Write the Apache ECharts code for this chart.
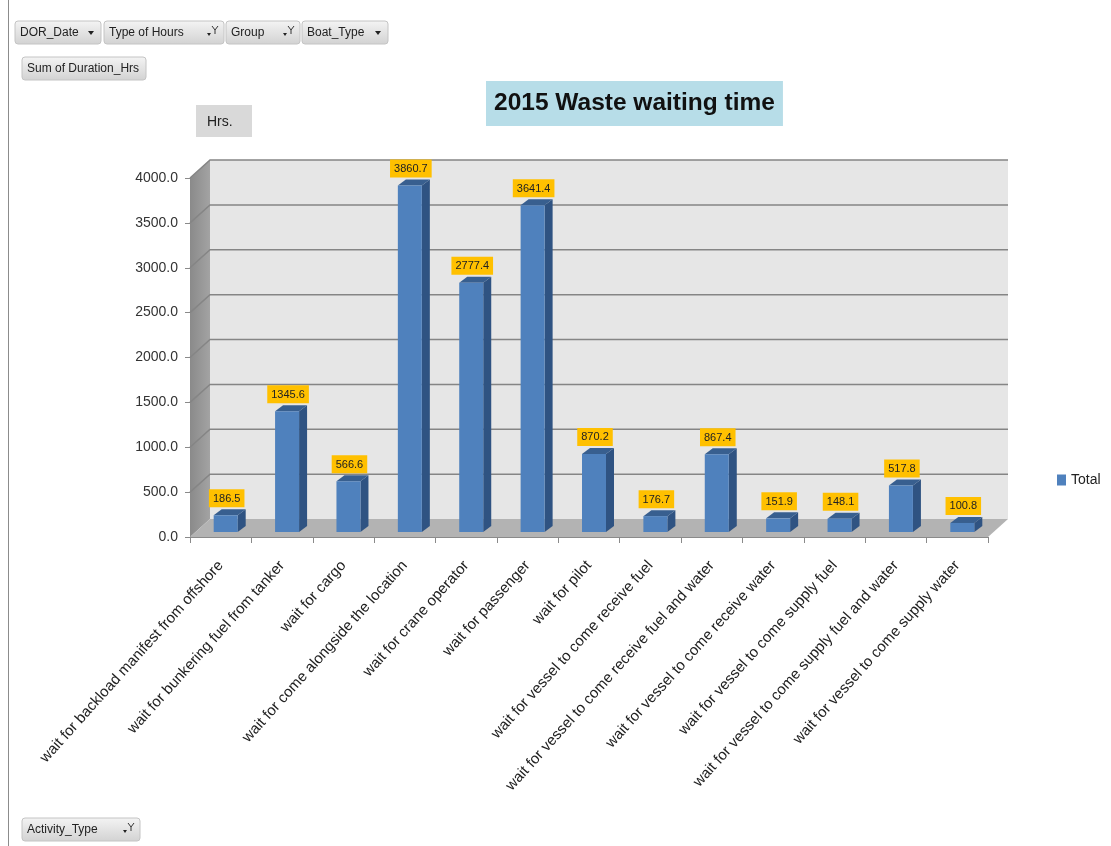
<!DOCTYPE html>
<html>
<head>
<meta charset="utf-8">
<script src="https://cdn.jsdelivr.net/npm/echarts@6/dist/echarts.min.js"></script>
<style>
  html, body { margin: 0; padding: 0; background: #fff; }
  #chart { width: 1111px; height: 846px; }
</style>
</head>
<body>
<div id="chart"></div>
<script>
(function() {
    const activities = [
      'wait for backload manifest from offshore',
      'wait for bunkering fuel from tanker',
      'wait for cargo',
      'wait for come alongside the location',
      'wait for crane operator',
      'wait for passenger',
      'wait for pilot',
      'wait for vessel to come receive fuel',
      'wait for vessel to come receive fuel and water',
      'wait for vessel to come receive water',
      'wait for vessel to come supply fuel',
      'wait for vessel to come supply fuel and water',
      'wait for vessel to come supply water'
    ];
    const totalHrs = [186.5, 1345.6, 566.6, 3860.7, 2777.4, 3641.4, 870.2, 176.7, 867.4, 151.9, 148.1, 517.8, 100.8];
    const yTicks = [0, 500, 1000, 1500, 2000, 2500, 3000, 3500, 4000];

    const FONT = '"Liberation Sans", Arial, sans-serif';
    // 3d look: depth of the walls and of the bars
    const WALL_DX = 20, WALL_DY = -18;
    const BAR_W = 24, BAR_DX = 8, BAR_DY = -6;

    const chart = echarts.init(document.getElementById('chart'));

    function button(x, y, w, label, icon) {
      const children = [
        {
          type: 'rect',
          shape: { x: 0, y: 0, width: w, height: 23, r: 3 },
          style: {
            fill: new echarts.graphic.LinearGradient(0, 0, 0, 1, [
              { offset: 0, color: '#f4f4f4' },
              { offset: 1, color: '#d2d2d2' }
            ]),
            stroke: '#c4c4c4', lineWidth: 1
          }
        },
        {
          type: 'text', x: 5, y: 12,
          style: { text: label, font: '12px ' + FONT, fill: '#222', verticalAlign: 'middle' }
        }
      ];
      if (icon === 'drop') {
        children.push({
          type: 'polygon',
          shape: { points: [[w - 13, 10], [w - 7, 10], [w - 10, 14]] },
          style: { fill: '#222' }
        });
      } else if (icon === 'filter') {
        children.push({
          type: 'polygon',
          shape: { points: [[w - 17, 12], [w - 13, 12], [w - 15, 15]] },
          style: { fill: '#222' }
        });
        children.push({
          type: 'polyline',
          shape: { points: [[w - 12, 5], [w - 9, 9], [w - 6, 5]] },
          style: { stroke: '#333', lineWidth: 1, fill: null }
        });
        children.push({
          type: 'line',
          shape: { x1: w - 9, y1: 9, x2: w - 9, y2: 13 },
          style: { stroke: '#333', lineWidth: 1 }
        });
      }
      return { type: 'group', x: x, y: y, children: children };
    }

    const option = {
      animation: false,
      backgroundColor: '#fff',
      title: {
        text: '2015 Waste waiting time',
        left: 486,
        top: 81,
        padding: [10, 8],
        backgroundColor: '#b7dde8',
        textStyle: {
          fontFamily: FONT,
          fontSize: 24.5,
          fontWeight: 'bold',
          color: '#111'
        }
      },
      legend: {
        data: ['Total'],
        left: 1052,
        top: 468,
        icon: 'rect',
        itemWidth: 9,
        itemHeight: 11,
        itemGap: 4,
        textStyle: { fontFamily: FONT, fontSize: 14, color: '#222' }
      },
      grid: {
        left: 190,
        top: 178,
        width: 798,
        height: 359,
        outerBoundsMode: 'none'
      },
      xAxis: {
        type: 'category',
        data: activities,
        axisLine: { lineStyle: { color: '#8a8a8a', width: 1 } },
        axisTick: { show: true, length: 6, lineStyle: { color: '#8a8a8a' } },
        axisLabel: {
          interval: 0,
          rotate: 48,
          margin: 26,
          fontFamily: FONT,
          fontSize: 15,
          color: '#222'
        },
        splitLine: { show: false }
      },
      yAxis: {
        type: 'value',
        min: 0,
        max: 4000,
        interval: 500,
        axisLine: { show: true, lineStyle: { color: '#8a8a8a', width: 1 } },
        axisTick: { show: true, length: 5, lineStyle: { color: '#8a8a8a' } },
        axisLabel: {
          margin: 12,
          fontFamily: FONT,
          fontSize: 14,
          color: '#333',
          formatter: (v) => v.toFixed(1)
        },
        splitLine: { show: false }
      },
      graphic: [
        {
          type: 'line',
          shape: { x1: 8.5, y1: 0, x2: 8.5, y2: 846 },
          style: { stroke: '#8c8c8c', lineWidth: 1 }
        },
        button(15, 21, 86, 'DOR_Date', 'drop'),
        button(104, 21, 120, 'Type of Hours', 'filter'),
        button(226, 21, 74, 'Group', 'filter'),
        button(302, 21, 86, 'Boat_Type', 'drop'),
        button(22, 57, 124, 'Sum of Duration_Hrs', null),
        button(22, 818, 118, 'Activity_Type', 'filter'),
        {
          type: 'group', x: 196, y: 105,
          children: [
            { type: 'rect', shape: { x: 0, y: 0, width: 56, height: 32 }, style: { fill: '#d9d9d9' } },
            { type: 'text', x: 11, y: 17, style: { text: 'Hrs.', font: '14px ' + FONT, fill: '#222', verticalAlign: 'middle' } }
          ]
        }
      ],
      series: [
        {
          // back wall, side wall, floor and gridlines
          type: 'custom',
          silent: true,
          z: 1,
          data: [[0, 0]],
          renderItem: function(params, api) {
            const band = api.size([1, 0])[0];
            const x0 = api.coord([0, 0])[0] - band / 2;
            const x1 = api.coord([activities.length - 1, 0])[0] + band / 2;
            const y0 = api.coord([0, 0])[1];
            const yTop = api.coord([0, yTicks[yTicks.length - 1]])[1];
            const children = [
              {
                type: 'rect',
                shape: { x: x0 + WALL_DX, y: yTop + WALL_DY, width: x1 - x0, height: y0 - yTop },
                style: { fill: '#e6e6e6' }
              },
              {
                type: 'polygon',
                shape: { points: [[x0, y0], [x0, yTop], [x0 + WALL_DX, yTop + WALL_DY], [x0 + WALL_DX, y0 + WALL_DY]] },
                style: {
                  fill: new echarts.graphic.LinearGradient(0, 0, 1, 0, [
                    { offset: 0, color: '#8a8a8a' },
                    { offset: 1, color: '#a3a3a3' }
                  ])
                }
              },
              {
                type: 'polygon',
                shape: { points: [[x0, y0], [x1, y0], [x1 + WALL_DX, y0 + WALL_DY], [x0 + WALL_DX, y0 + WALL_DY]] },
                style: { fill: '#b3b3b3' }
              }
            ];
            yTicks.forEach(function(t) {
              if (t === 0) return;
              const y = api.coord([0, t])[1];
              children.push({
                type: 'polyline',
                shape: { points: [[x0, y], [x0 + WALL_DX, y + WALL_DY], [x1 + WALL_DX, y + WALL_DY]] },
                style: { stroke: '#858585', lineWidth: 1.5, fill: null }
              });
            });
            return { type: 'group', children: children };
          }
        },
        {
          name: 'Total',
          type: 'custom',
          z: 3,
          itemStyle: { color: '#4f81bd' },
          data: totalHrs.map((v, i) => [i, v]),
          encode: { x: 0, y: 1 },
          renderItem: function(params, api) {
            const v = api.value(1);
            const base = api.coord([api.value(0), 0]);
            const top = api.coord([api.value(0), v]);
            const x0 = base[0] - BAR_W / 2 + 5;
            const x1 = x0 + BAR_W;
            const yb = base[1] - 5;
            const yt = top[1] - 5;
            return {
              type: 'group',
              children: [
                {
                  type: 'polygon',
                  shape: { points: [[x1, yb], [x1, yt], [x1 + BAR_DX, yt + BAR_DY], [x1 + BAR_DX, yb + BAR_DY]] },
                  style: { fill: '#2f5382' }
                },
                {
                  type: 'polygon',
                  shape: { points: [[x0, yt], [x1, yt], [x1 + BAR_DX, yt + BAR_DY], [x0 + BAR_DX, yt + BAR_DY]] },
                  style: { fill: '#385f8f' }
                },
                {
                  type: 'rect',
                  shape: { x: x0, y: yt, width: BAR_W, height: yb - yt },
                  style: { fill: '#4f81bd' }
                },
                {
                  type: 'text',
                  x: (x0 + x1) / 2 + 1,
                  y: yt + BAR_DY - 2,
                  style: {
                    text: v.toFixed(1),
                    font: '11px ' + FONT,
                    fill: '#222',
                    align: 'center',
                    verticalAlign: 'bottom',
                    backgroundColor: '#ffc000',
                    padding: [4, 4, 3, 4]
                  }
                }
              ]
            };
          }
        }
      ]
    };

    chart.setOption(option);
    window.addEventListener('resize', () => chart.resize());
})();
</script>
</body>
</html>
